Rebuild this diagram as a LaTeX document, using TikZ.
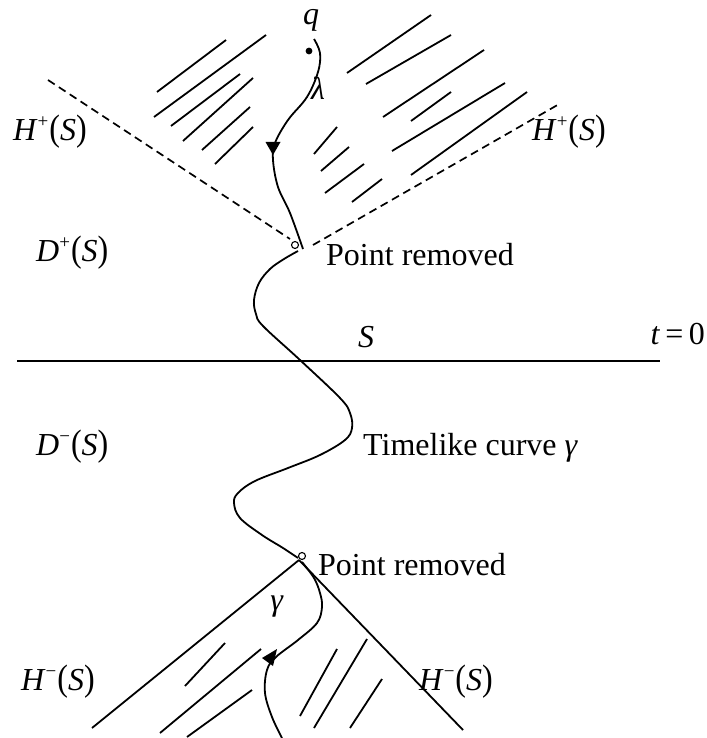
\documentclass[tikz,border=0pt]{standalone}
\usepackage{fontspec}
\setmainfont{Liberation Serif}
\usepackage{graphicx}
\newcommand{\tallp}[1]{\scalebox{1}[1.15]{(}#1\scalebox{1}[1.15]{)}}
\newcommand{\setlab}[2]{\textit{#1}\raisebox{0.42em}{\fontsize{19}{19}\selectfont #2}\kern1pt\tallp{\textit{S}}}
\begin{document}
\begin{tikzpicture}[x=1pt,y=-1pt,
  every node/.style={inner sep=0pt, font=\fontsize{32}{36}\selectfont},
  solidline/.style={line width=1.8pt},
  hatch/.style={line width=1.8pt},
  nullline/.style={line width=1.7pt, dash pattern=on 8pt off 5pt},
  curvestyle/.style={line width=1.8pt, line join=round},
  removed/.style={circle, draw, minimum size=7pt, line width=1.1pt},
  arrowhead/.style={fill=black}]
\useasboundingbox (0,0) rectangle (706,738);

% labels
\node[anchor=west] (hpl) at (13,132) {\setlab{H}{+}};
\node[anchor=west] (hpr) at (532,132) {\setlab{H}{+}};
\node[anchor=west] (dp) at (36,253) {\setlab{D}{+}};
\node[anchor=west] (dm) at (36,447) {\setlab{D}{−}};
\node[anchor=west] (hml) at (21,682) {\setlab{H}{−}};
\node[anchor=west] (hmr) at (419,682) {\setlab{H}{−}};
\node (q) at (311,20) {\textit{q}};
\node (lam) at (318,88) {\textit{λ}};
\node (S) at (366,337) {\textit{S}};
\node[anchor=east] (t0) at (705,334) {\textit{t}\,=\,0};
\node[anchor=west] (pr1) at (326,255) {Point removed};
\node[anchor=west] (tc) at (363,448) {Timelike curve \textit{γ}};
\node[anchor=west] (pr2) at (318,565) {Point removed};
\node (gam) at (277,607) {\textit{γ}};

% coordinates
\coordinate (dl) at (48,80);
\coordinate (dr) at (561,103);
\coordinate (apexU) at (295,245);
\coordinate (apexL) at (299,560);
\coordinate (cl) at (92,728);
\coordinate (cr) at (463,730);
\coordinate (sl) at (17,361);
\coordinate (sr) at (660,361);

% null boundaries
\draw[nullline] (dl) -- (290,239);
\draw[nullline] (313,245) -- (dr);
\draw[solidline] (apexL) -- (cl);
\draw[solidline] (apexL) -- (cr);
\draw[line width=2pt] (sl) -- (sr);

% removed points
\node[removed] (rm1) at (apexU) {};
\node[removed] (rm2) at (302,556) {};
\fill (309,51) circle (3.4);

% curves
\draw[curvestyle] plot[smooth, tension=0.6] coordinates {(314,39) (320,53) (318,72) (307,97) (288,120) (275,143) (273,160) (278,187) (290,213) (303,249)};
\draw[curvestyle] plot[smooth, tension=0.6] coordinates {(298,251) (284,259) (270,269) (259,283) (254,300) (256,314) (263,326) (300,360) (340,398) (350,413) (352,428) (345,440) (320,455) (288,468) (255,481) (238,493) (234,503) (240,518) (262,535) (283,548) (298,558)};
\draw[curvestyle] plot[smooth, tension=0.6] coordinates {(302,562) (314,578) (320,593) (322,607) (317,623) (298,640) (276,657) (267,670) (265,693) (272,717) (282,738)};

% arrow heads
\fill[arrowhead] (265.5,142) -- (280.5,142) -- (273,155) -- cycle;
\fill[arrowhead] (277,649) -- (262,658) -- (273,666) -- cycle;

% hatching upper left
\foreach \a/\b/\c/\d in {157/92/226/40, 154/117/266/35, 171/126/240/74, 183/141/253/78, 202/150/250/107, 215/164/253/127}
  \draw[hatch] (\a,\b) -- (\c,\d);
% hatching upper right
\foreach \a/\b/\c/\d in {347/73/431/15, 366/84/451/35, 383/117/484/50, 411/121/451/92, 392/151/505/83, 411/175/527/92, 314/154/337/127, 321/171/349/147, 325/193/364/164, 352/202/382/179}
  \draw[hatch] (\a,\b) -- (\c,\d);
% hatching lower
\foreach \a/\b/\c/\d in {185/686/225/643, 160/733/261/649, 187/737/252/690, 300/716/337/649, 314/728/367/639, 350/728/382/679}
  \draw[hatch] (\a,\b) -- (\c,\d);
\end{tikzpicture}
\end{document}
